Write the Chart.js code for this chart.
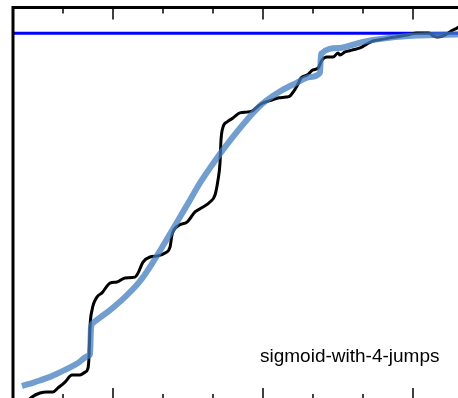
<!DOCTYPE html>
<html>
<head>
<meta charset="utf-8">
<script src="https://cdn.jsdelivr.net/npm/chart.js@4.4.1/dist/chart.umd.min.js"></script>
<style>
  html, body { margin: 0; padding: 0; background: #fff; overflow: hidden; }
  #wrap { position: relative; width: 458px; height: 398px; overflow: hidden; }
  #chart { position: absolute; left: 0; top: 0; }
  #label { position: absolute; left: 260px; top: 346px; font: 19px "Liberation Sans", Arial, sans-serif; line-height: 19px; color: #000; white-space: nowrap; }
</style>
</head>
<body>
<div id="wrap">
  <canvas id="chart" width="520" height="430"></canvas>
  <div id="label">sigmoid-with-4-jumps</div>
</div>
<script>
// noisy observed curve
const obsX = [0.26, 0.38, 0.54, 0.68, 0.80, 0.90, 1.04, 1.18, 1.34, 1.44, 1.50, 1.52, 1.54, 1.58, 1.68, 1.78, 1.94, 2.08, 2.24, 2.44,
  2.50, 2.60, 2.74, 2.90, 3.04, 3.14, 3.18, 3.30, 3.48, 3.64, 3.80, 3.94, 4.04, 4.10, 4.14, 4.16, 4.20, 4.28, 4.40, 4.54,
  4.68, 4.78, 4.88, 4.96, 5.06, 5.18, 5.32, 5.46, 5.54, 5.62, 5.68, 5.76, 5.88, 6.00, 6.10, 6.18, 6.28, 6.40, 6.50, 6.54,
  6.64, 6.78, 6.94, 7.08, 7.20, 7.40, 7.64, 7.88, 8.08, 8.24, 8.32, 8.40, 8.50, 8.64, 8.74, 8.80, 8.88, 8.98];
const obsY = [-0.008, 0.008, 0.019, 0.022, 0.022, 0.033, 0.049, 0.068, 0.068, 0.076, 0.087, 0.117, 0.199, 0.245, 0.281, 0.292, 0.319, 0.322, 0.333, 0.335,
  0.346, 0.376, 0.390, 0.393, 0.401, 0.417, 0.450, 0.475, 0.485, 0.513, 0.526, 0.540, 0.559, 0.600, 0.646, 0.709, 0.744, 0.758, 0.769, 0.783,
  0.785, 0.788, 0.799, 0.807, 0.813, 0.818, 0.824, 0.826, 0.829, 0.843, 0.856, 0.878, 0.886, 0.900, 0.905, 0.927, 0.935, 0.935, 0.946, 0.941,
  0.949, 0.954, 0.960, 0.971, 0.979, 0.984, 0.990, 0.995, 1.001, 1.001, 1.001, 0.993, 0.990, 0.995, 1.004, 1.009, 1.014, 1.023];

// fitted sigmoid with jumps
const fitX = [0.18, 0.44, 0.74, 1.04, 1.30, 1.50, 1.54, 1.56, 1.60, 1.94, 2.28, 2.54, 2.80, 3.08, 3.34, 3.54, 3.74, 4.08, 4.32, 4.66,
  4.98, 5.32, 5.66, 5.94, 6.14, 6.16, 6.52, 6.98, 7.32, 7.98, 8.46, 9.04];
const fitY = [0.038, 0.049, 0.063, 0.082, 0.101, 0.120, 0.125, 0.196, 0.210, 0.245, 0.286, 0.324, 0.376, 0.439, 0.499, 0.545, 0.592, 0.660, 0.704, 0.761,
  0.807, 0.840, 0.864, 0.881, 0.892, 0.944, 0.960, 0.976, 0.984, 0.993, 0.995, 0.998];

// asymptote
const levelX = [0, 9.3];
const levelY = [1.0, 1.0];

const xTicks = [1, 2, 3, 4, 5, 6, 7, 8, 9];
const majorTicks = [2, 5, 8];

const toPts = (xs, ys) => xs.map((x, i) => ({ x, y: ys[i] }));

const frame = {
  id: 'frame',
  afterDraw(chart) {
    const { ctx, chartArea: a, scales: { x } } = chart;
    ctx.save();
    ctx.strokeStyle = '#000';
    ctx.lineWidth = 1.5;
    xTicks.forEach(v => {
      const px = x.getPixelForValue(v);
      const len = majorTicks.includes(v) ? 12 : 6;
      ctx.beginPath();
      ctx.moveTo(px, a.top); ctx.lineTo(px, a.top + len);
      ctx.moveTo(px, a.bottom); ctx.lineTo(px, a.bottom - len);
      ctx.stroke();
    });
    ctx.lineWidth = 3;
    ctx.strokeRect(a.left, a.top, a.right - a.left, a.bottom - a.top);
    ctx.restore();
  }
};

new Chart(document.getElementById('chart'), {
  type: 'line',
  data: {
    datasets: [
      { data: toPts(fitX, fitY), borderColor: 'rgba(65,125,190,0.75)', borderWidth: 6, pointRadius: 0, cubicInterpolationMode: 'monotone', borderJoinStyle: 'round' },
      { data: toPts(obsX, obsY), borderColor: '#000', borderWidth: 3, pointRadius: 0, cubicInterpolationMode: 'monotone', borderJoinStyle: 'round' },
      { data: toPts(levelX, levelY), borderColor: '#0000ff', borderWidth: 3, pointRadius: 0 }
    ]
  },
  options: {
    responsive: false, animation: false, devicePixelRatio: 1,
    layout: { padding: { left: 13, top: 7.5, right: 42, bottom: 30 } },
    plugins: { legend: { display: false }, tooltip: { enabled: false } },
    scales: {
      x: { type: 'linear', min: 0, max: 9.3, display: false },
      y: { type: 'linear', min: 0, max: 1.0703, display: false }
    }
  },
  plugins: [frame]
});
</script>
</body>
</html>
